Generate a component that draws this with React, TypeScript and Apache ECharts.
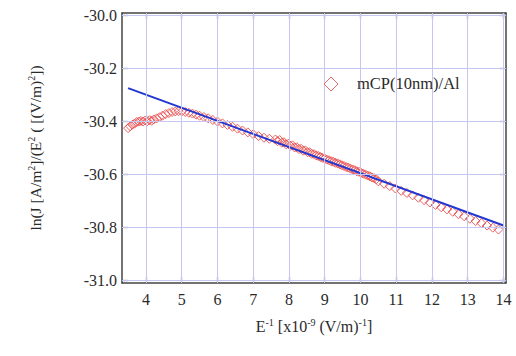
import React, { useEffect, useRef } from "react";
import * as echarts from "echarts";

// Measured data: E^-1 [x10^-9 (V/m)^-1] vs ln(J/E^2)
const dataX: number[] = [
  3.50, 3.56, 3.62, 3.68, 3.74, 3.80, 3.86, 3.92, 3.98, 4.04, 4.10, 4.16, 4.22, 4.30, 4.38, 4.46, 4.55, 4.64, 4.73, 4.82,
  4.91, 5.00, 5.10, 5.20, 5.30, 5.40, 5.50, 5.62, 5.74, 5.87, 6.00, 6.14, 6.28, 6.42, 6.56, 6.70, 6.85, 7.00, 7.15, 7.30,
  7.45,
  7.62, 7.68, 7.74, 7.80, 7.86, 7.92, 7.98, 8.04, 8.10, 8.16, 8.22, 8.28, 8.34, 8.40, 8.46, 8.52, 8.58, 8.64, 8.70, 8.76,
  8.82, 8.88, 8.94, 9.00, 9.06, 9.12, 9.18, 9.24, 9.30, 9.36, 9.42, 9.48, 9.54, 9.60, 9.66, 9.72, 9.78, 9.84, 9.90, 9.96,
  10.02, 10.08, 10.14, 10.20, 10.26, 10.32, 10.38, 10.44,
  10.50, 10.66, 10.82, 10.98, 11.14, 11.30, 11.46, 11.62, 11.78, 11.94, 12.10, 12.26, 12.42, 12.58, 12.74, 12.90, 13.06,
  13.22, 13.38, 13.54, 13.70, 13.86,
];
const dataY: number[] = [
  -30.425, -30.418, -30.412, -30.408, -30.402, -30.400, -30.398, -30.400, -30.396, -30.399, -30.395, -30.397, -30.392,
  -30.388, -30.384, -30.378, -30.372, -30.368, -30.364, -30.362, -30.361, -30.362, -30.364, -30.367, -30.370, -30.374,
  -30.378, -30.383, -30.388, -30.394, -30.400, -30.407, -30.413, -30.420, -30.427, -30.434, -30.441, -30.448, -30.455,
  -30.461, -30.465,
  -30.468, -30.474, -30.470, -30.480, -30.478, -30.486, -30.484, -30.492, -30.490, -30.498, -30.497, -30.504, -30.503,
  -30.510, -30.509, -30.516, -30.516, -30.522, -30.523, -30.528, -30.530, -30.534, -30.537, -30.540, -30.544, -30.546,
  -30.550, -30.552, -30.556, -30.558, -30.562, -30.565, -30.568, -30.572, -30.574, -30.578, -30.581, -30.584, -30.588,
  -30.590, -30.594, -30.597, -30.600, -30.604, -30.607, -30.611, -30.614, -30.618,
  -30.626, -30.635, -30.644, -30.653, -30.662, -30.670, -30.679, -30.688, -30.697, -30.706, -30.715, -30.724, -30.732,
  -30.741, -30.750, -30.758, -30.767, -30.776, -30.784, -30.793, -30.801, -30.808,
];

// Linear fit line endpoints
const fitX: number[] = [3.5, 14.0];
const fitY: number[] = [-30.274, -30.793];

// Tick values
const xTicks: number[] = [4, 5, 6, 7, 8, 9, 10, 11, 12, 13, 14];
const yTicks: number[] = [-31.0, -30.8, -30.6, -30.4, -30.2, -30.0];

const seriesName = "mCP(10nm)/Al";

const X_MIN = 3.33;
const X_MAX = 14.07;
const Y_MIN = -31.01;
const Y_MAX = -29.99;

const FONT = "Liberation Serif";
const RED = "#e84848";
const TXT = "#2a2a2a";

export default function App() {
  const ref = useRef<HTMLDivElement>(null);

  useEffect(() => {
    if (!ref.current) return;
    const chart = echarts.init(ref.current, undefined, { renderer: "svg" });

    const frameLine = { show: true, lineStyle: { color: "#444", width: 1.5 } };
    const tickStyle = { color: "#444", width: 1.2 };

    const sup = { fontSize: 10, verticalAlign: "top" as const, fontFamily: FONT, color: TXT, lineHeight: 14 };
    const tickText = { fontFamily: FONT, fontSize: 16, color: TXT };

    const gridMarks = [
      ...xTicks.map((v) => ({ xAxis: v })),
      ...yTicks.map((v) => ({ yAxis: v })),
    ];

    chart.setOption({
      animation: false,
      backgroundColor: "#ffffff",
      textStyle: { fontFamily: FONT, color: TXT },
      grid: { left: 122, top: 13, right: 10, bottom: 73, containLabel: false },
      graphic: [
        {
          type: "polygon",
          shape: { points: [[331, 77], [338, 84], [331, 91], [324, 84]] },
          style: { fill: "transparent", stroke: "#e86868", lineWidth: 1 },
          z: 10,
        },
        {
          type: "text",
          left: 357,
          top: 75,
          style: { text: seriesName, fontFamily: FONT, fontSize: 16.5, fill: TXT },
          z: 10,
        },
      ],
      xAxis: [
        {
          type: "value",
          min: X_MIN,
          max: X_MAX,
          position: "bottom",
          axisLine: frameLine,
          axisTick: { show: true, inside: true, length: 6, lineStyle: tickStyle, customValues: xTicks },
          splitLine: { show: false },
          axisLabel: {
            customValues: xTicks,
            fontFamily: FONT,
            fontSize: 16,
            color: TXT,
            margin: 8,
            formatter: (v: number) => `{t|${Math.round(v)}}`,
            rich: { t: tickText },
          },
          name: "E{sup|-1} [x10{sup|-9} (V/m){sup|-1}]",
          nameLocation: "middle",
          nameGap: 34,
          nameTextStyle: {
            fontFamily: FONT,
            fontSize: 16,
            color: TXT,
            lineHeight: 18,
            rich: { sup },
          },
        },
        {
          type: "value",
          min: X_MIN,
          max: X_MAX,
          position: "top",
          axisLine: frameLine,
          axisTick: { show: true, inside: true, length: 6, lineStyle: tickStyle, customValues: xTicks },
          splitLine: { show: false },
          axisLabel: { show: false },
        },
      ],
      yAxis: [
        {
          type: "value",
          min: Y_MIN,
          max: Y_MAX,
          position: "left",
          axisLine: frameLine,
          axisTick: { show: true, inside: true, length: 6, lineStyle: tickStyle, customValues: yTicks },
          splitLine: { show: false },
          axisLabel: {
            customValues: yTicks,
            fontFamily: FONT,
            fontSize: 16,
            color: TXT,
            margin: 5,
            formatter: (v: number) => `{t|${v.toFixed(1)}}`,
            rich: { t: tickText },
          },
          name: "ln(J [A/m{sup|2}]/(E{sup|2} ( [(V/m){sup|2}])",
          nameLocation: "middle",
          nameGap: 78,
          nameRotate: 90,
          nameTextStyle: {
            fontFamily: FONT,
            fontSize: 15.5,
            color: TXT,
            lineHeight: 18,
            rich: { sup },
          },
        },
        {
          type: "value",
          min: Y_MIN,
          max: Y_MAX,
          position: "right",
          axisLine: frameLine,
          axisTick: { show: true, inside: true, length: 6, lineStyle: tickStyle, customValues: yTicks },
          splitLine: { show: false },
          axisLabel: { show: false },
        },
      ],
      series: [
        {
          name: "grid",
          type: "line",
          xAxisIndex: 0,
          yAxisIndex: 0,
          data: [],
          silent: true,
          z: 1,
          markLine: {
            silent: true,
            symbol: ["none", "none"],
            label: { show: false },
            lineStyle: { color: "#c6c6f2", width: 1, type: "solid" },
            emphasis: { disabled: true },
            data: gridMarks,
          },
        },
        {
          name: seriesName,
          type: "scatter",
          xAxisIndex: 0,
          yAxisIndex: 0,
          symbol: "diamond",
          symbolSize: 9,
          itemStyle: { color: "transparent", borderColor: RED, borderWidth: 1, opacity: 0.85 },
          data: dataX.map((x, i) => [x, dataY[i]]),
          z: 2,
        },
        {
          name: "fit",
          type: "line",
          xAxisIndex: 0,
          yAxisIndex: 0,
          symbol: "none",
          lineStyle: { color: "#2236d0", width: 2 },
          data: fitX.map((x, i) => [x, fitY[i]]),
          z: 3,
        },
      ],
    });

    return () => chart.dispose();
  }, []);

  return (
    <div
      ref={ref}
      style={{ position: "fixed", left: 0, top: 0, width: 516, height: 356, background: "#fff" }}
    />
  );
}
